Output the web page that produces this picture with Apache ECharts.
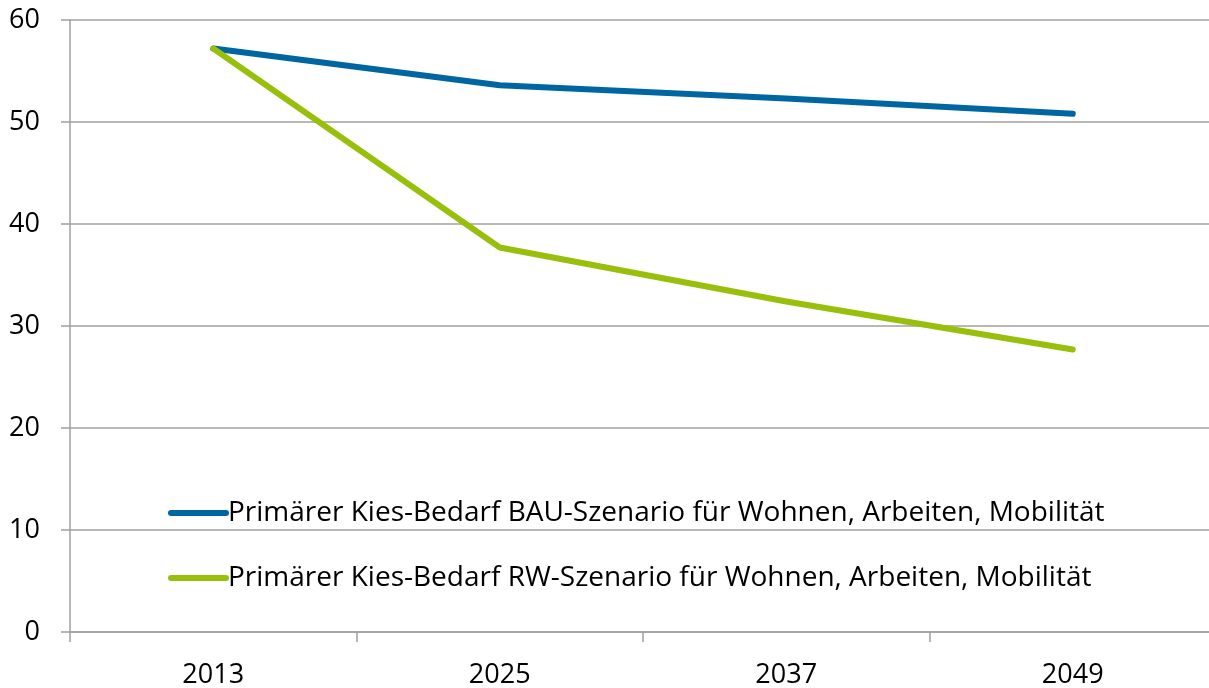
<!DOCTYPE html>
<html>
<head>
<meta charset="utf-8">
<script src="https://cdn.jsdelivr.net/npm/echarts@6/dist/echarts.min.js"></script>
<style>
  html, body { margin: 0; padding: 0; background: #fff; }
  #chart { width: 1209px; height: 688px; }
</style>
</head>
<body>
<div id="chart"></div>
<script>
const years = ['2013', '2025', '2037', '2049']
const bauName = 'Primärer Kies-Bedarf BAU-Szenario für Wohnen, Arbeiten, Mobilität'
const rwName = 'Primärer Kies-Bedarf RW-Szenario für Wohnen, Arbeiten, Mobilität'
const bauValues = [57.2, 53.6, 52.3, 50.8]
const rwValues = [57.2, 37.7, 32.4, 27.7]
const yTicks = { min: 0, max: 60, interval: 10 }

const font = '"Open Sans", "DejaVu Sans", sans-serif'
const grey = '#a0a0a0'

const myChart = echarts.init(document.getElementById('chart'))
myChart.setOption({
  animation: false,
  textStyle: { fontFamily: font },
  grid: {
    left: 70,
    top: 20,
    width: 1146, // last category edge sits just past the canvas
    height: 612,
    outerBoundsMode: 'none',
    containLabel: false
  },
  legend: {
    type: 'plain',
    orient: 'vertical',
    left: 168,
    top: 498,
    width: 1030,
    height: 160,
    padding: 0,
    itemWidth: 55,
    itemHeight: 14,
    itemGap: 35,
    data: [bauName, rwName],
    lineStyle: { width: 6, cap: 'round' },
    itemStyle: { opacity: 0 },
    textStyle: {
      fontFamily: font,
      fontSize: 28,
      lineHeight: 30,
      padding: [0, 0, 0, -3],
      color: '#000'
    }
  },
  xAxis: {
    type: 'category',
    data: years,
    boundaryGap: true,
    axisLine: { show: true, lineStyle: { color: grey, width: 1.5 } },
    axisTick: { show: true, length: 10, lineStyle: { color: grey, width: 1.5 } },
    axisLabel: {
      margin: 30,
      fontSize: 27,
      color: '#000',
      fontFamily: font
    },
    splitLine: { show: false }
  },
  yAxis: {
    type: 'value',
    min: yTicks.min,
    max: yTicks.max,
    interval: yTicks.interval,
    axisLine: { show: true, lineStyle: { color: grey, width: 1.5 } },
    axisTick: { show: true, length: 9, lineStyle: { color: grey, width: 1.5 } },
    axisLabel: {
      margin: 30,
      fontSize: 27,
      color: '#000',
      fontFamily: font
    },
    splitLine: { show: true, lineStyle: { color: grey, width: 1.5 } }
  },
  series: [
    {
      name: bauName,
      type: 'line',
      data: bauValues,
      symbol: 'none',
      smooth: false,
      itemStyle: { color: '#0066a1' },
      lineStyle: { color: '#0066a1', width: 6, cap: 'round', join: 'round' }
    },
    {
      name: rwName,
      type: 'line',
      data: rwValues,
      symbol: 'none',
      smooth: false,
      itemStyle: { color: '#99bf0d' },
      lineStyle: { color: '#99bf0d', width: 6, cap: 'round', join: 'round' }
    }
  ]
})
</script>
</body>
</html>
